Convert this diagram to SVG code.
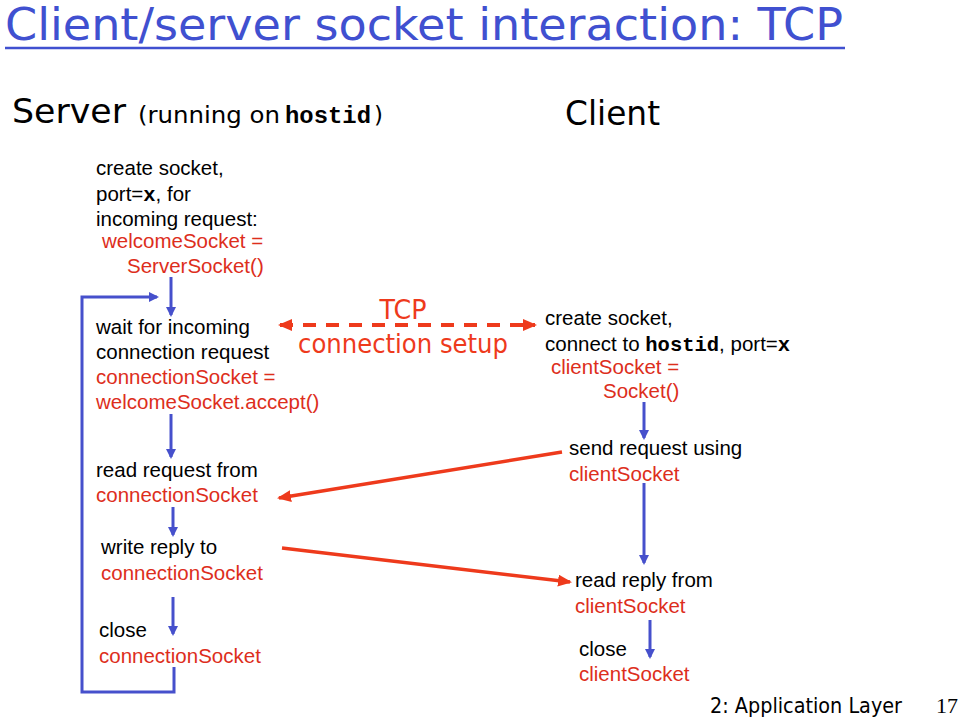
<svg xmlns="http://www.w3.org/2000/svg" width="960" height="717" viewBox="0 0 960 717">
<style>
.t{font-family:"Liberation Sans",Arial,sans-serif;font-size:20.5px;fill:#000}
.r{fill:#DD2E1C}
.m{font-family:"Liberation Mono","Courier New",monospace;font-weight:bold}
.c{font-family:"DejaVu Sans","Noto Sans",sans-serif}
.b{stroke:#4650CC;stroke-width:3;fill:none}
.rl{stroke:#EE3A1C;stroke-width:3.5;fill:none}
</style>
<defs>
<marker id="ab" markerWidth="10" markerHeight="10" refX="8" refY="5" orient="auto" markerUnits="userSpaceOnUse"><path d="M0,0 L10,5 L0,10 Z" fill="#4650CC"/></marker>
<marker id="ar" markerWidth="14" markerHeight="12" refX="12" refY="6" orient="auto" markerUnits="userSpaceOnUse"><path d="M0,0 L14,6 L0,12 Z" fill="#EE3A1C"/></marker>
<marker id="ars" markerWidth="14" markerHeight="12" refX="2" refY="6" orient="auto" markerUnits="userSpaceOnUse"><path d="M14,0 L0,6 L14,12 Z" fill="#EE3A1C"/></marker>
</defs>
<rect width="960" height="717" fill="#fff"/>
<g id="title">
<text class="c" x="5" y="40" font-size="44" fill="#4050D0" textLength="838" lengthAdjust="spacingAndGlyphs">Client/server socket interaction: TCP</text>
<line x1="5" y1="48" x2="845" y2="48" stroke="#4050D0" stroke-width="2.5"/>
</g>
<g id="server-heading">
<text class="c" x="12" y="123" font-size="34" textLength="114" lengthAdjust="spacingAndGlyphs">Server</text>
<text class="c" x="138" y="123" font-size="23" textLength="142" lengthAdjust="spacingAndGlyphs">(running on</text>
<text class="m" x="285" y="123" font-size="23.5" textLength="86" lengthAdjust="spacingAndGlyphs">hostid</text>
<text class="c" x="374" y="123" font-size="23">)</text>
</g>
<g id="client-heading">
<text class="c" x="565" y="125" font-size="34" textLength="95" lengthAdjust="spacingAndGlyphs">Client</text>
</g>
<g id="s-create">
<text class="t" x="96" y="175">create socket,</text>
<text class="t" x="96" y="201">port=<tspan class="m">x</tspan>, for</text>
<text class="t" x="96" y="226">incoming request:</text>
<text class="t r" x="102" y="248">welcomeSocket =</text>
<text class="t r" x="127" y="273">ServerSocket()</text>
</g>
<g id="s-wait">
<text class="t" x="96" y="334">wait for incoming</text>
<text class="t" x="96" y="359">connection request</text>
<text class="t r" x="96" y="384">connectionSocket =</text>
<text class="t r" x="96" y="409">welcomeSocket.accept()</text>
</g>
<g id="s-read">
<text class="t" x="96" y="477">read request from</text>
<text class="t r" x="96" y="502">connectionSocket</text>
</g>
<g id="s-write">
<text class="t" x="101" y="554">write reply to</text>
<text class="t r" x="101" y="580">connectionSocket</text>
</g>
<g id="s-close">
<text class="t" x="99" y="637">close</text>
<text class="t r" x="99" y="663">connectionSocket</text>
</g>
<g id="c-create">
<text class="t" x="545" y="325">create socket,</text>
<text class="t" x="545" y="351">connect to <tspan class="m">hostid</tspan>, port=<tspan class="m">x</tspan></text>
<text class="t r" x="551" y="374">clientSocket =</text>
<text class="t r" x="603" y="398">Socket()</text>
</g>
<g id="c-send">
<text class="t" x="569" y="455">send request using</text>
<text class="t r" x="569" y="481">clientSocket</text>
</g>
<g id="c-read">
<text class="t" x="575" y="587">read reply from</text>
<text class="t r" x="575" y="613">clientSocket</text>
</g>
<g id="c-close">
<text class="t" x="579" y="656">close</text>
<text class="t r" x="579" y="681">clientSocket</text>
</g>
<g id="tcp-label">
<text class="c" x="403" y="319" font-size="26" fill="#EE3A1C" text-anchor="middle" textLength="47" lengthAdjust="spacingAndGlyphs">TCP</text>
<text class="c" x="298" y="353" font-size="26" fill="#EE3A1C" textLength="210" lengthAdjust="spacingAndGlyphs">connection setup</text>
</g>
<g id="footer">
<text class="c" x="710" y="713" font-size="22" textLength="192" lengthAdjust="spacingAndGlyphs">2: Application Layer</text>
<text x="936" y="713" font-family="'Liberation Serif','Times New Roman',serif" font-size="22">17</text>
</g>
<g id="connectors">
<line class="b" x1="171" y1="277" x2="171" y2="315" marker-end="url(#ab)"/>
<polyline class="b" points="174,667 174,692 82,692 82,297 157,297" marker-end="url(#ab)"/>
<line class="b" x1="171" y1="414" x2="171" y2="457" marker-end="url(#ab)"/>
<line class="b" x1="173" y1="507" x2="173" y2="535" marker-end="url(#ab)"/>
<line class="b" x1="173" y1="597" x2="173" y2="634" marker-end="url(#ab)"/>
<line class="b" x1="644" y1="402" x2="644" y2="438" marker-end="url(#ab)"/>
<line class="b" x1="644" y1="483" x2="644" y2="563" marker-end="url(#ab)"/>
<line class="b" x1="650" y1="620" x2="650" y2="657" marker-end="url(#ab)"/>
<line stroke="#EE3A1C" stroke-width="4" stroke-dasharray="13,10" x1="280" y1="325" x2="535" y2="325" marker-start="url(#ars)" marker-end="url(#ar)"/>
<line class="rl" x1="562" y1="452" x2="279" y2="498" marker-end="url(#ar)"/>
<line class="rl" x1="282" y1="548" x2="570" y2="582" marker-end="url(#ar)"/>
</g>
</svg>
